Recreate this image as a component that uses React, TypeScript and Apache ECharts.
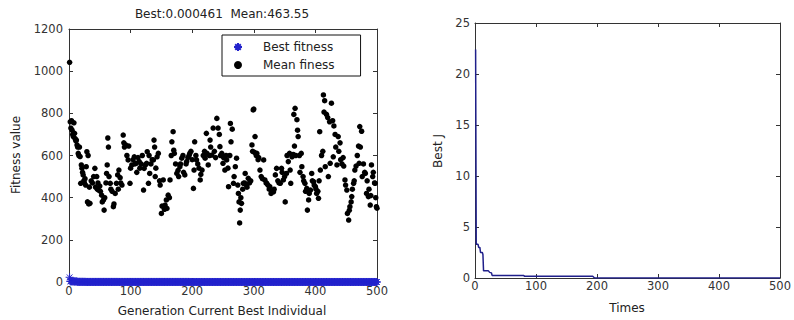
import React, { useEffect, useRef } from "react";
import * as echarts from "echarts";

const FONT = '"DejaVu Sans", "Liberation Sans", sans-serif';

// Left chart: x ticks / y ticks
const genTicks = [0, 100, 200, 300, 400, 500];
const fitTicks = [0, 200, 400, 600, 800, 1000, 1200];
// Right chart ticks
const timeTicks = [0, 100, 200, 300, 400, 500];
const bestJTicks = [0, 5, 10, 15, 20, 25];

// Best J (step curve, corners)
const bestTimes = [1, 2, 5, 6, 8, 9, 12, 13, 14, 22, 24, 27, 28, 80, 81, 193, 196, 500];
const bestValues = [22.4, 3.3, 3.3, 3.0, 3.0, 2.5, 2.5, 2.3, 0.7, 0.7, 0.55, 0.5, 0.25, 0.25, 0.17, 0.17, 0.0005, 0.0005];

// Mean fitness per generation [generation, value]
const meanFitness: [number, number][] = [
  [1, 1042], [2, 760], [3, 730], [4, 765], [5, 720], [6, 700], [7, 690], [8, 755], [9, 705], [10, 680],
  [11, 670], [12, 673], [13, 650], [14, 640], [15, 610], [16, 600], [17, 640], [18, 595], [19, 468], [20, 555],
  [21, 540], [22, 520], [23, 508], [24, 480], [25, 470], [26, 490], [27, 460], [28, 547], [29, 618], [30, 380],
  [31, 600], [32, 370], [33, 450], [34, 373], [36, 480], [38, 470], [40, 500], [42, 539], [43, 450], [45, 500],
  [46, 440], [47, 470], [48, 436], [50, 455], [51, 430], [53, 412], [54, 380], [56, 389], [57, 341], [58, 400],
  [60, 470], [61, 515], [62, 555], [63, 683], [64, 640], [65, 500], [67, 468], [68, 440], [70, 430], [72, 357],
  [73, 370], [75, 420], [77, 468], [79, 508], [80, 440], [81, 531], [83, 495], [84, 470], [86, 460], [88, 697],
  [89, 660], [90, 640], [92, 650], [94, 600], [96, 579], [97, 645], [99, 468], [100, 540], [102, 555], [104, 580],
  [106, 594], [107, 560], [109, 563], [110, 520], [112, 590], [114, 571], [115, 540], [117, 560], [119, 600], [121, 436],
  [122, 539], [124, 555], [126, 563], [127, 618], [129, 468], [130, 600], [131, 515], [133, 560], [135, 580], [137, 579],
  [138, 673], [139, 640], [140, 500], [141, 540], [143, 594], [145, 610], [147, 480], [148, 460], [150, 325], [151, 360],
  [153, 484], [155, 345], [156, 365], [158, 389], [159, 349], [161, 412], [163, 400], [164, 484], [166, 600], [167, 665],
  [169, 713], [170, 625], [171, 610], [173, 560], [175, 515], [177, 530], [178, 500], [180, 547], [181, 560], [183, 587],
  [185, 600], [186, 520], [188, 508], [190, 560], [191, 571], [193, 590], [195, 600], [196, 610], [198, 620], [200, 580],
  [202, 444], [203, 531], [204, 665], [206, 600], [207, 579], [209, 560], [211, 540], [213, 484], [214, 510], [216, 531],
  [218, 600], [220, 620], [221, 587], [223, 705], [224, 610], [226, 555], [228, 600], [229, 673], [230, 640], [232, 602],
  [234, 730], [236, 620], [238, 590], [240, 776], [242, 730], [244, 700], [245, 642], [246, 600], [248, 610], [250, 563],
  [251, 590], [253, 531], [255, 600], [256, 579], [258, 540], [259, 452], [261, 600], [262, 752], [263, 665], [265, 725],
  [267, 468], [268, 500], [270, 547], [272, 587], [274, 460], [275, 420], [276, 380], [277, 280], [278, 341], [279, 400],
  [280, 373], [282, 440], [283, 468], [285, 470], [286, 515], [288, 460], [289, 450], [291, 492], [293, 470], [295, 480],
  [297, 650], [298, 620], [299, 816], [300, 820], [301, 615], [302, 690], [304, 600], [305, 610], [307, 580], [308, 590],
  [310, 531], [312, 500], [314, 490], [316, 579], [318, 484], [320, 470], [321, 468], [323, 460], [325, 440], [326, 452],
  [328, 420], [330, 430], [332, 428], [333, 440], [335, 508], [337, 539], [339, 480], [341, 470], [343, 468], [345, 539],
  [346, 520], [348, 484], [350, 500], [351, 380], [353, 515], [354, 600], [356, 571], [358, 610], [359, 531], [360, 468],
  [362, 594], [364, 605], [365, 795], [366, 645], [367, 824], [368, 600], [370, 770], [371, 720], [372, 690], [374, 600],
  [375, 520], [377, 610], [378, 547], [380, 500], [381, 480], [383, 468], [384, 430], [386, 444], [387, 341], [389, 389],
  [390, 420], [392, 436], [394, 515], [395, 480], [397, 476], [398, 460], [400, 452], [401, 440], [402, 420], [404, 430],
  [405, 397], [406, 480], [407, 713], [408, 531], [410, 600], [412, 620], [413, 887], [414, 806], [415, 860], [416, 547],
  [418, 795], [420, 780], [421, 500], [423, 760], [424, 563], [426, 848], [428, 765], [429, 594], [430, 740], [432, 700],
  [433, 640], [435, 555], [437, 690], [438, 620], [440, 660], [441, 580], [443, 560], [445, 590], [446, 550], [448, 484],
  [449, 460], [451, 436], [452, 325], [454, 294], [455, 340], [456, 357], [458, 380], [459, 405], [460, 440], [462, 468],
  [463, 480], [464, 531], [466, 550], [468, 600], [470, 645], [471, 563], [472, 737], [473, 640], [475, 715], [476, 500],
  [478, 560], [480, 520], [481, 515], [483, 420], [484, 480], [486, 405], [487, 440], [489, 365], [490, 410], [491, 555],
  [493, 500], [494, 520], [496, 470], [497, 468], [498, 400], [499, 357], [500, 350],
];

const titleText = "Best:0.000461  Mean:463.55";

const ASTERISK = "path://M0,5L10,5M5,0L5,10M1.5,1.5L8.5,8.5M8.5,1.5L1.5,8.5";

function bestAt(g: number): number {
  let v = bestValues[0];
  for (let i = 0; i < bestTimes.length; i++) {
    if (bestTimes[i] <= g) v = bestValues[i];
  }
  return v;
}

export default function App() {
  const ref = useRef<HTMLDivElement>(null);
  useEffect(() => {
    if (!ref.current) return;
    const chart = echarts.init(ref.current, undefined, { renderer: "svg" });

    const bestLeft: [number, number][] = [];
    for (let g = 1; g <= 500; g++) bestLeft.push([g, bestAt(g)]);
    const bestLine = bestTimes.map((t, i) => [t, bestValues[i]]);

    const axisCommon = (min: number, max: number, interval: number) => ({
      type: "value" as const,
      min,
      max,
      interval,
      axisLine: { show: true, onZero: false, lineStyle: { color: "#333", width: 1 } },
      axisTick: { show: true, inside: true, length: 4, lineStyle: { color: "#333" } },
      splitLine: { show: false },
    });
    const lbl = (margin: number) => ({
      fontFamily: FONT,
      fontSize: 11.5,
      color: "#333",
      margin,
      formatter: (v: number) => String(v),
    });
    const hidden = { show: false };

    chart.setOption({
      animation: false,
      backgroundColor: "#fff",
      grid: [
        { left: 69, top: 29, width: 308, height: 253 },
        { left: 475, top: 23, width: 305, height: 255 },
      ],
      xAxis: [
        { ...axisCommon(genTicks[0], genTicks[genTicks.length - 1], genTicks[1] - genTicks[0]), gridIndex: 0, position: "bottom", axisLabel: lbl(3) },
        { ...axisCommon(genTicks[0], genTicks[genTicks.length - 1], genTicks[1] - genTicks[0]), gridIndex: 0, position: "top", axisLabel: hidden },
        { ...axisCommon(timeTicks[0], timeTicks[timeTicks.length - 1], timeTicks[1] - timeTicks[0]), gridIndex: 1, position: "bottom", axisLabel: lbl(2) },
        { ...axisCommon(timeTicks[0], timeTicks[timeTicks.length - 1], timeTicks[1] - timeTicks[0]), gridIndex: 1, position: "top", axisLabel: hidden },
      ],
      yAxis: [
        { ...axisCommon(fitTicks[0], fitTicks[fitTicks.length - 1], fitTicks[1] - fitTicks[0]), gridIndex: 0, position: "left", axisLabel: lbl(6) },
        { ...axisCommon(fitTicks[0], fitTicks[fitTicks.length - 1], fitTicks[1] - fitTicks[0]), gridIndex: 0, position: "right", axisLabel: hidden },
        { ...axisCommon(bestJTicks[0], bestJTicks[bestJTicks.length - 1], bestJTicks[1] - bestJTicks[0]), gridIndex: 1, position: "left", axisLabel: lbl(5) },
        { ...axisCommon(bestJTicks[0], bestJTicks[bestJTicks.length - 1], bestJTicks[1] - bestJTicks[0]), gridIndex: 1, position: "right", axisLabel: hidden },
      ],
      legend: {
        left: 222,
        top: 35,
        orient: "vertical",
        backgroundColor: "#fff",
        borderColor: "#111",
        borderWidth: 1,
        borderRadius: 0,
        padding: [6, 26, 5, 11],
        itemWidth: 40,
        itemHeight: 8,
        itemGap: 6,
        textStyle: { fontFamily: FONT, fontSize: 12, color: "#222" },
        data: [
          { name: "Best fitness", icon: ASTERISK },
          { name: "Mean finess", icon: "circle" },
        ],
      },
      series: [
        {
          name: "Best fitness",
          type: "scatter",
          xAxisIndex: 0,
          yAxisIndex: 0,
          data: bestLeft,
          symbol: ASTERISK,
          symbolSize: 8,
          itemStyle: { color: "#2222cc", borderColor: "#2222cc", borderWidth: 1, opacity: 1 },
          z: 2,
        },
        {
          name: "Mean finess",
          type: "scatter",
          xAxisIndex: 0,
          yAxisIndex: 0,
          data: meanFitness,
          symbol: "circle",
          symbolSize: 5.5,
          itemStyle: { color: "#000", opacity: 1 },
          z: 3,
        },
        {
          name: "Best J",
          type: "line",
          xAxisIndex: 2,
          yAxisIndex: 2,
          data: bestLine,
          showSymbol: false,
          symbol: "none",
          lineStyle: { color: "#1f1f8a", width: 1.5 },
        },
      ],
      graphic: [
        { type: "text", x: 222, y: 14, style: { text: titleText, fontFamily: FONT, fontSize: 12, fill: "#222", align: "center", verticalAlign: "middle" } },
        { type: "text", x: 222, y: 311, style: { text: "Generation Current Best Individual", fontFamily: FONT, fontSize: 12, fill: "#222", align: "center", verticalAlign: "middle" } },
        { type: "text", x: 16, y: 155, rotation: Math.PI / 2, style: { text: "Fitness value", fontFamily: FONT, fontSize: 12, fill: "#222", align: "center", verticalAlign: "middle" } },
        { type: "text", x: 627, y: 308, style: { text: "Times", fontFamily: FONT, fontSize: 12, fill: "#222", align: "center", verticalAlign: "middle" } },
        { type: "text", x: 438, y: 151, rotation: Math.PI / 2, style: { text: "Best J", fontFamily: FONT, fontSize: 12, fill: "#222", align: "center", verticalAlign: "middle" } },
      ],
    });
    return () => chart.dispose();
  }, []);
  return <div ref={ref} style={{ position: "fixed", left: 0, top: 0, width: 794, height: 320 }} />;
}
